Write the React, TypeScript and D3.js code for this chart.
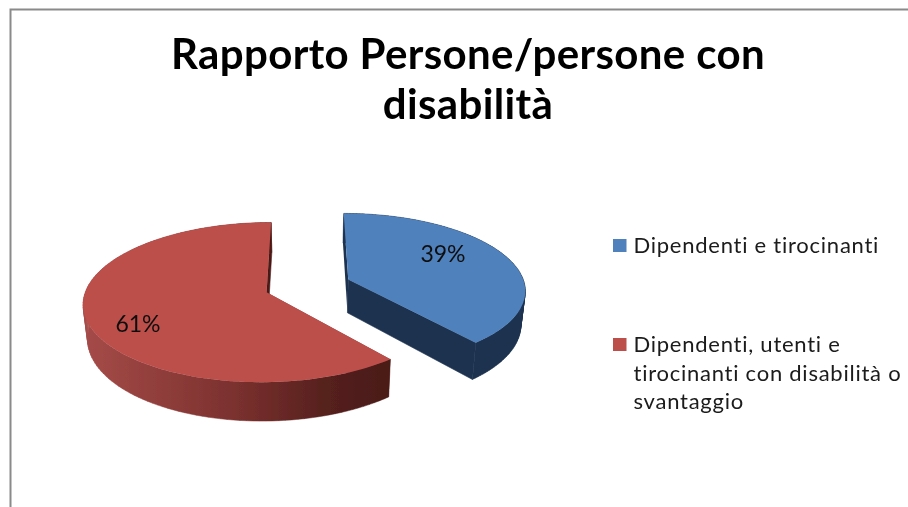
import React from "react";
import * as d3 from "d3";

const categories = ["Dipendenti e tirocinanti", "Dipendenti, utenti e tirocinanti con disabilità o svantaggio"];
const values = [39, 61];
const valueLabels = ["39%", "61%"];
const titleLines = ["Rapporto Persone/persone con", "disabilità"];
const legendLines = [["Dipendenti e tirocinanti"], ["Dipendenti, utenti e", "tirocinanti con disabilità o", "svantaggio"]];
const topColors = ["#4f81bd", "#bd4f4c"];
const sideColors = ["#1d3350", "#4a1a18"];
const cutColors = ["#1d3350", "#8a3835"];
const explodeBySlice = [0.25, 0.234];
const radiusBySlice = [0.985, 1];

const CX = 306.5, CY = 286, RX = 179.5, RY = 77, K = 0.126, BOTTOM_SCALE = 0.98, THICK = 33.6;

type P = [number, number];
const project = (u: number, v: number): { top: P; bottom: P } => {
  const s = 1 / (1 - K * v);
  const x = CX + RX * u * s;
  const y = CY + RY * v * s;
  return { top: [x, y], bottom: [CX + (x - CX) * BOTTOM_SCALE, y + THICK * s] };
};

const pieGen = d3.pie<number>().sort(null).value((d) => d);
const slices = pieGen(values);
const line = d3.line<P>().x((d) => d[0]).y((d) => d[1]);

function sliceGeom(a0: number, a1: number, i: number) {
  const mid = (a0 + a1) / 2;
  const e = explodeBySlice[i], r = radiusBySlice[i];
  const ou = Math.sin(mid) * e, ov = -Math.cos(mid) * e;
  const at = (a: number) => project(ou + r * Math.sin(a), ov - r * Math.cos(a));
  const apex = project(ou, ov);
  const angles = d3.range(0, 121).map((k) => a0 + ((a1 - a0) * k) / 120);
  return { apex, angles, at };
}

export default function App() {
  return (
    <svg width={908} height={507} viewBox="0 0 908 507"
      style={{ position: "absolute", left: 0, top: 0, background: "#fff", display: "block" }}
      fontFamily="Lato, sans-serif">
      <defs>
        <linearGradient id="redSide" gradientUnits="userSpaceOnUse" x1={85} x2={390} y1={0} y2={0}>
          <stop offset="0" stopColor="#a54b48" />
          <stop offset="0.5" stopColor="#7a302e" />
          <stop offset="0.8" stopColor="#55201d" />
          <stop offset="1" stopColor="#4a1a18" />
        </linearGradient>
        <filter id="soft" x="-5%" y="-5%" width="110%" height="110%">
          <feGaussianBlur stdDeviation="0.45" />
        </filter>
      </defs>
      <path d="M10.5 507 V9.5 H908" fill="none" stroke="#8a8a8a" strokeWidth={2} />
      <g textAnchor="middle" fontWeight={700} fontSize={42} letterSpacing={0.36} fill="#000" filter="url(#soft)">
        {titleLines.map((t, i) => (
          <text key={t} x={468} y={69 + i * 50}>{t}</text>
        ))}
      </g>
      <g filter="url(#soft)">
        {slices.map((sl, i) => {
          const { apex, angles, at } = sliceGeom(sl.startAngle, sl.endAngle, i);
          const outer = angles.map((a) => at(a));
          const first = outer[0], last = outer[outer.length - 1];
          const wallFill = i === 1 ? "url(#redSide)" : sideColors[0];
          const cutFace = line([apex.top, first.top, first.bottom, apex.bottom])! + "Z";
          const cutFace2 = line([apex.top, last.top, last.bottom, apex.bottom])! + "Z";
          const quads = outer.slice(1).map((p, k) =>
            line([outer[k].top, p.top, p.bottom, outer[k].bottom])! + "Z").join("");
          const top = line([apex.top, ...outer.map((p) => p.top)])! + "Z";
          return (
            <g key={categories[i]}>
              <path d={cutFace} fill={cutColors[i]} />
              <path d={quads} fill={wallFill} stroke={wallFill} strokeWidth={0.5} />
              <path d={cutFace2} fill={sideColors[i]} stroke={sideColors[i]} strokeWidth={0.6} />
              <path d={top} fill={topColors[i]} />
            </g>
          );
        })}
      </g>
      <g fontSize={23} fill="#111" filter="url(#soft)">
        <text x={443} y={261.5} textAnchor="middle">{valueLabels[0]}</text>
        <text x={138} y={331.5} textAnchor="middle">{valueLabels[1]}</text>
      </g>
      <g filter="url(#soft)">
        <rect x={613} y={239} width={13.5} height={13} fill={topColors[0]} />
        <rect x={613} y={338} width={13.5} height={13} fill={topColors[1]} />
      </g>
      <g fontSize={22} letterSpacing={0.75} fill="#1a1a1a" filter="url(#soft)">
        <text x={633.5} y={253}>{legendLines[0][0]}</text>
        {legendLines[1].map((t, i) => (
          <text key={t} x={633.5} y={352 + i * 28.5}>{t}</text>
        ))}
      </g>
    </svg>
  );
}
